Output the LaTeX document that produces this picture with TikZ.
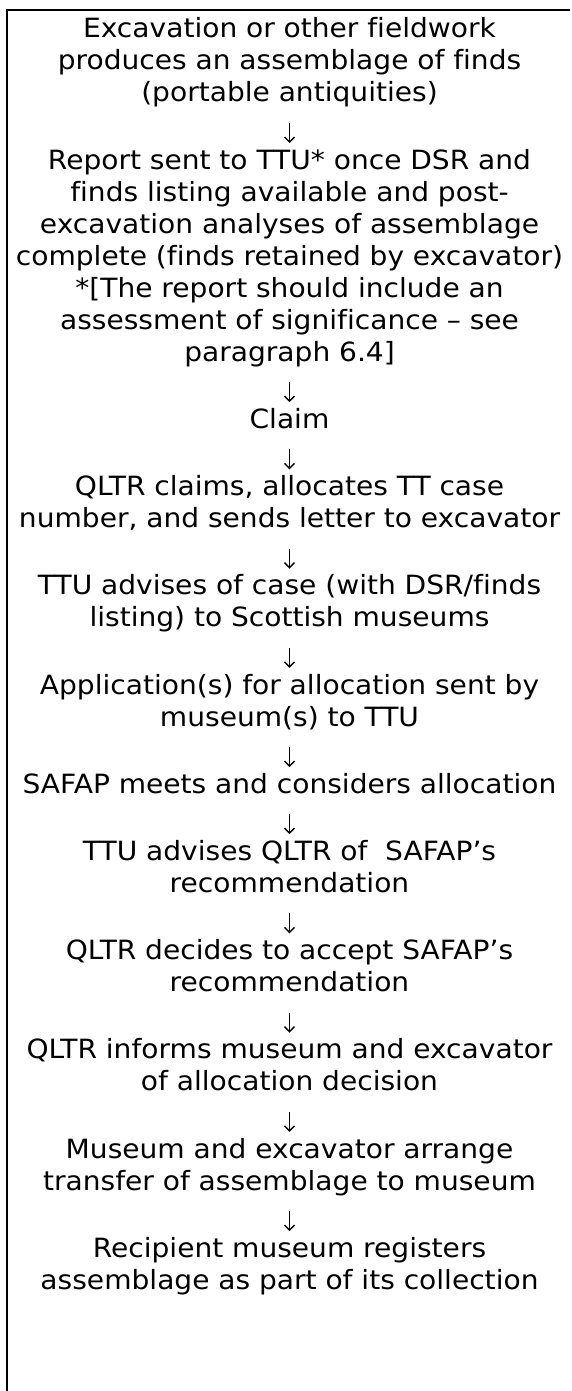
\documentclass[tikz,border=0pt]{standalone}
\usepackage{fontspec}
\setmainfont{DejaVu Sans}[Ligatures=NoCommon, FakeStretch=1.06]
\usetikzlibrary{arrows.meta}
\newcommand\stfirst{\rule{0pt}{22pt}}
\newcommand\stlast{\rule[-7pt]{0pt}{7pt}}
\begin{document}
\begin{tikzpicture}[x=1pt,y=1pt,
  stepbox/.style={anchor=north, inner sep=0pt, outer sep=0pt, text width=570pt,
    align=center, font=\fontsize{26.5}{32}\selectfont},
  flow/.style={line width=1.4pt, -{Straight Barb[length=5pt,width=10pt]},
    shorten <=14pt, shorten >=4.2pt},
  frame/.style={line width=2pt}]
\useasboundingbox (0,0) rectangle (571,-1391);
\draw[frame] (7,-1391) -- (7,-10) -- (570,-10);
\node[stepbox] (s1) at (289.5,-16) {\stfirst Excavation or other fieldwork\\produces an assemblage of finds\\(portable antiquities)\stlast};
\node[stepbox] (s2) at (289.5,-147.2) {\stfirst Report sent to TTU* once DSR and\\finds listing available and post-\\excavation analyses of assemblage\\complete (finds retained by excavator)\\\relax *[The report should include an\\assessment of significance – see\\paragraph 6.4]\stlast};
\node[stepbox] (s3) at (289.5,-406.4) {\stfirst Claim\stlast};
\node[stepbox] (s4) at (289.5,-473.6) {\stfirst QLTR claims, allocates TT case\\number, and sends letter to excavator\stlast};
\node[stepbox] (s5) at (289.5,-572.8) {\stfirst TTU advises of case (with DSR/finds\\listing) to Scottish museums\stlast};
\node[stepbox] (s6) at (289.5,-672.0) {\stfirst Application(s) for allocation sent by\\museum(s) to TTU\stlast};
\node[stepbox] (s7) at (289.5,-771.2) {\stfirst SAFAP meets and considers allocation\stlast};
\node[stepbox] (s8) at (289.5,-838.4) {\stfirst TTU advises QLTR of~ SAFAP’s\\recommendation\stlast};
\node[stepbox] (s9) at (289.5,-937.6) {\stfirst QLTR decides to accept SAFAP’s\\recommendation\stlast};
\node[stepbox] (s10) at (289.5,-1036.8) {\stfirst QLTR informs museum and excavator\\of allocation decision\stlast};
\node[stepbox] (s11) at (289.5,-1136.0) {\stfirst Museum and excavator arrange\\transfer of assemblage to museum\stlast};
\node[stepbox] (s12) at (289.5,-1235.2) {\stfirst Recipient museum registers\\assemblage as part of its collection\stlast};
\foreach \a/\b in {s1/s2,s2/s3,s3/s4,s4/s5,s5/s6,s6/s7,s7/s8,s8/s9,s9/s10,s10/s11,s11/s12}
  \draw[flow] (\a.south) -- (\b.north);
\end{tikzpicture}
\end{document}
